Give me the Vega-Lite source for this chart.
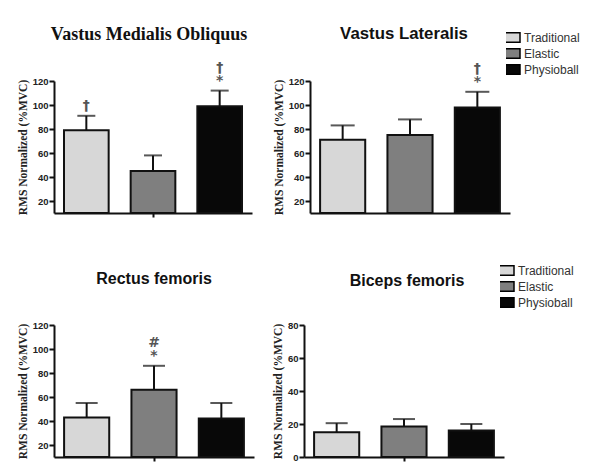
{
  "$schema": "https://vega.github.io/schema/vega-lite/v6.json",
  "padding": {"left": 17, "top": 25, "right": 5, "bottom": 5},
  "background": "white",
  "config": {
    "view": {"stroke": null},
    "axis": {"grid": false, "domainColor": "#111", "domainWidth": 2, "tickColor": "#111", "tickWidth": 2, "tickSize": 5, "labelOverlap": false, "tickCount": 20,
      "labelFont": "Liberation Sans", "labelFontWeight": "bold", "labelFontSize": 9.5, "labelColor": "#222", "labelPadding": 1,
      "titleFont": "Liberation Serif", "titleFontWeight": "bold", "titleFontSize": 11.5, "titleColor": "#222", "titlePadding": 4},
    "legend": {"padding": 0, "symbolType": "M-2,-1.2H2V1.2H-2Z", "symbolSize": 64, "symbolStrokeColor": "black", "symbolStrokeWidth": 1.5, "clipHeight": 15.5,
      "labelFont": "Liberation Sans", "labelFontSize": 12, "labelColor": "#333", "rowPadding": 0, "labelOffset": 6, "title": null}
  },
  "data": {"values": [
    {"muscle": "VMO", "group": "Traditional", "value": 79, "upper": 91, "note_low": "†", "note_top": ""},
    {"muscle": "VMO", "group": "Elastic", "value": 45, "upper": 58, "note_low": "", "note_top": ""},
    {"muscle": "VMO", "group": "Physioball", "value": 99, "upper": 112, "note_low": "*", "note_top": "†"},
    {"muscle": "VL", "group": "Traditional", "value": 71, "upper": 83, "note_low": "", "note_top": ""},
    {"muscle": "VL", "group": "Elastic", "value": 75, "upper": 88, "note_low": "", "note_top": ""},
    {"muscle": "VL", "group": "Physioball", "value": 98, "upper": 111, "note_low": "*", "note_top": "†"},
    {"muscle": "RF", "group": "Traditional", "value": 43, "upper": 55, "note_low": "", "note_top": ""},
    {"muscle": "RF", "group": "Elastic", "value": 66, "upper": 86, "note_low": "*", "note_top": "#"},
    {"muscle": "RF", "group": "Physioball", "value": 42, "upper": 55, "note_low": "", "note_top": ""},
    {"muscle": "BF", "group": "Traditional", "value": 15, "upper": 20.5, "note_low": "", "note_top": ""},
    {"muscle": "BF", "group": "Elastic", "value": 18.5, "upper": 23, "note_low": "", "note_top": ""},
    {"muscle": "BF", "group": "Physioball", "value": 16, "upper": 20, "note_low": "", "note_top": ""}
  ]},
  "resolve": {"scale": {"color": "independent"}, "legend": {"color": "independent"}},
  "spacing": 44,
  "vconcat": [
    {
      "spacing": 21,
      "resolve": {"scale": {"color": "independent"}, "legend": {"color": "independent"}},
      "hconcat": [
        {
          "title": {"text": "Vastus Medialis Obliquus", "font": "Liberation Serif", "fontSize": 18, "fontWeight": "bold", "anchor": "middle", "frame": "group", "offset": 17, "dx": -4, "color": "#111"},
          "width": 198, "height": 132,
          "transform": [{"filter": "datum.muscle === 'VMO'"}],
          "encoding": {"x": {"field": "group", "type": "nominal", "sort": ["Traditional", "Elastic", "Physioball"], "scale": {"paddingInner": 0.33, "paddingOuter": 0.15}, "axis": {"title": null, "labels": false, "values": ["Elastic"], "tickSize": 4}}},
          "layer": [
            {"mark": {"type": "bar", "stroke": "#111", "strokeWidth": 2}, "encoding": {"y": {"field": "value", "type": "quantitative", "scale": {"domain": [10, 120], "zero": false}, "axis": {"title": "RMS Normalized (%MVC)", "values": [20, 40, 60, 80, 100, 120], "tickCount": 20}}, "y2": {"datum": 10}, "color": {"field": "group", "type": "nominal", "scale": {"domain": ["Traditional", "Elastic", "Physioball"], "range": ["#d7d7d7", "#7f7f7f", "#080808"]}, "legend": null}}},
            {"mark": {"type": "rule", "strokeWidth": 2, "color": "#111"}, "encoding": {"y": {"field": "value", "type": "quantitative"}, "y2": {"field": "upper"}}},
            {"mark": {"type": "tick", "size": 18, "thickness": 2, "color": "#111"}, "encoding": {"y": {"field": "upper", "type": "quantitative"}}},
            {"mark": {"type": "text", "baseline": "bottom", "dy": -3, "fontSize": 14, "font": "DejaVu Sans", "fontWeight": "bold", "color": "#555"}, "encoding": {"y": {"field": "upper", "type": "quantitative"}, "text": {"field": "note_low"}}},
            {"mark": {"type": "text", "baseline": "bottom", "dy": -16, "fontSize": 14, "font": "DejaVu Sans", "fontWeight": "bold", "color": "#555"}, "encoding": {"y": {"field": "upper", "type": "quantitative"}, "text": {"field": "note_top"}}}
          ]
        },
        {
          "title": {"text": "Vastus Lateralis", "font": "Liberation Sans", "fontSize": 16.8, "fontWeight": "bold", "anchor": "middle", "frame": "group", "offset": -13.5, "dx": -6, "color": "#111"},
          "width": 200, "height": 132,
          "transform": [{"filter": "datum.muscle === 'VL'"}],
          "encoding": {"x": {"field": "group", "type": "nominal", "sort": ["Traditional", "Elastic", "Physioball"], "scale": {"paddingInner": 0.33, "paddingOuter": 0.15}, "axis": {"title": null, "labels": false, "ticks": false}}},
          "layer": [
            {"mark": {"type": "bar", "stroke": "#111", "strokeWidth": 2}, "encoding": {"y": {"field": "value", "type": "quantitative", "scale": {"domain": [10, 120], "zero": false}, "axis": {"title": "RMS Normalized (%MVC)", "values": [20, 40, 60, 80, 100, 120], "tickCount": 20}}, "y2": {"datum": 10}, "color": {"field": "group", "type": "nominal", "sort": ["Traditional", "Elastic", "Physioball"], "scale": {"domain": ["Traditional", "Elastic", "Physioball"], "range": ["#d7d7d7", "#7f7f7f", "#080808"]}, "legend": {"orient": "none", "legendX": 196, "legendY": -51.25}}}},
            {"mark": {"type": "rule", "strokeWidth": 2, "color": "#111"}, "encoding": {"y": {"field": "value", "type": "quantitative"}, "y2": {"field": "upper"}}},
            {"mark": {"type": "tick", "size": 24, "thickness": 2, "color": "#111"}, "encoding": {"y": {"field": "upper", "type": "quantitative"}}},
            {"mark": {"type": "text", "baseline": "bottom", "dy": -3, "fontSize": 14, "font": "DejaVu Sans", "fontWeight": "bold", "color": "#555"}, "encoding": {"y": {"field": "upper", "type": "quantitative"}, "text": {"field": "note_low"}}},
            {"mark": {"type": "text", "baseline": "bottom", "dy": -16, "fontSize": 14, "font": "DejaVu Sans", "fontWeight": "bold", "color": "#555"}, "encoding": {"y": {"field": "upper", "type": "quantitative"}, "text": {"field": "note_top"}}}
          ]
        }
      ]
    },
    {
      "spacing": 18,
      "resolve": {"scale": {"color": "independent"}, "legend": {"color": "independent"}},
      "hconcat": [
        {
          "title": {"text": "Rectus femoris", "font": "Liberation Sans", "fontSize": 16, "fontWeight": "bold", "anchor": "middle", "frame": "group", "offset": 33, "color": "#111"},
          "width": 200, "height": 132,
          "transform": [{"filter": "datum.muscle === 'RF'"}],
          "encoding": {"x": {"field": "group", "type": "nominal", "sort": ["Traditional", "Elastic", "Physioball"], "scale": {"paddingInner": 0.33, "paddingOuter": 0.15}, "axis": {"title": null, "labels": false, "values": ["Elastic"], "tickSize": 4}}},
          "layer": [
            {"mark": {"type": "bar", "stroke": "#111", "strokeWidth": 2}, "encoding": {"y": {"field": "value", "type": "quantitative", "scale": {"domain": [10, 120], "zero": false}, "axis": {"title": "RMS Normalized (%MVC)", "values": [20, 40, 60, 80, 100, 120], "tickCount": 20}}, "y2": {"datum": 10}, "color": {"field": "group", "type": "nominal", "scale": {"domain": ["Traditional", "Elastic", "Physioball"], "range": ["#d7d7d7", "#7f7f7f", "#080808"]}, "legend": null}}},
            {"mark": {"type": "rule", "strokeWidth": 2, "color": "#111"}, "encoding": {"y": {"field": "value", "type": "quantitative"}, "y2": {"field": "upper"}}},
            {"mark": {"type": "tick", "size": 22, "thickness": 2, "color": "#111"}, "encoding": {"y": {"field": "upper", "type": "quantitative"}}},
            {"mark": {"type": "text", "baseline": "bottom", "dy": -3, "fontSize": 14, "font": "DejaVu Sans", "fontWeight": "bold", "color": "#555"}, "encoding": {"y": {"field": "upper", "type": "quantitative"}, "text": {"field": "note_low"}}},
            {"mark": {"type": "text", "baseline": "bottom", "dy": -16, "fontSize": 14, "font": "DejaVu Sans", "fontWeight": "bold", "color": "#555"}, "encoding": {"y": {"field": "upper", "type": "quantitative"}, "text": {"field": "note_top"}}}
          ]
        },
        {
          "title": {"text": "Biceps femoris", "font": "Liberation Sans", "fontSize": 16, "fontWeight": "bold", "anchor": "middle", "frame": "group", "offset": -26.5, "dx": 3, "color": "#111"},
          "width": 200, "height": 132,
          "transform": [{"filter": "datum.muscle === 'BF'"}],
          "encoding": {"x": {"field": "group", "type": "nominal", "sort": ["Traditional", "Elastic", "Physioball"], "scale": {"paddingInner": 0.33, "paddingOuter": 0.15}, "axis": {"title": null, "labels": false, "values": ["Elastic"], "tickSize": 4}}},
          "layer": [
            {"mark": {"type": "bar", "stroke": "#111", "strokeWidth": 2}, "encoding": {"y": {"field": "value", "type": "quantitative", "scale": {"domain": [0, 80]}, "axis": {"title": "RMS Normalized (%MVC)", "values": [0, 20, 40, 60, 80], "tickCount": 20}}, "y2": {"datum": 0}, "color": {"field": "group", "type": "nominal", "sort": ["Traditional", "Elastic", "Physioball"], "scale": {"domain": ["Traditional", "Elastic", "Physioball"], "range": ["#d7d7d7", "#7f7f7f", "#080808"]}, "legend": {"orient": "none", "legendX": 196, "legendY": -62.25}}}},
            {"mark": {"type": "rule", "strokeWidth": 2, "color": "#111"}, "encoding": {"y": {"field": "value", "type": "quantitative"}, "y2": {"field": "upper"}}},
            {"mark": {"type": "tick", "size": 22, "thickness": 2, "color": "#111"}, "encoding": {"y": {"field": "upper", "type": "quantitative"}}}
          ]
        }
      ]
    }
  ]
}
